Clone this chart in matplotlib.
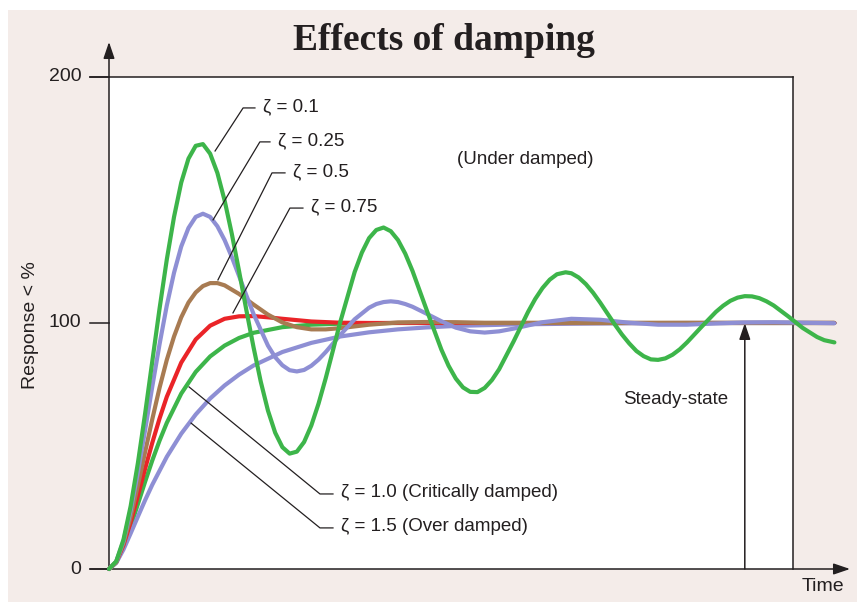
import matplotlib
matplotlib.use("Agg")
import matplotlib.pyplot as plt
from matplotlib.patches import Rectangle

# Step responses (time in units of 1/wn, response in %)
t_z010 = [0, 0.25, 0.5, 0.75, 1.0, 1.25, 1.5, 1.75, 2.0, 2.25, 2.5, 2.75, 3.0, 3.25, 3.5,
          3.75, 4.0, 4.25, 4.5, 4.75, 5.0, 5.25, 5.5, 5.75, 6.0, 6.25, 6.5, 6.75, 7.0, 7.25,
          7.5, 7.75, 8.0, 8.5, 8.75, 9.0, 9.25, 9.5, 9.75, 10.0, 10.25, 10.5, 11.0, 11.5,
          11.75, 12.0, 12.25, 12.5, 12.75, 13.0, 13.25, 13.5, 14.0, 14.5, 14.75, 15.0, 15.25,
          15.5, 15.8, 16.0, 16.25, 16.5, 16.75, 17.0, 17.25, 17.5, 17.75, 18.0, 18.25, 18.5,
          18.75, 19.0, 19.25, 19.5, 19.75, 20.0, 20.5, 21.0, 21.25, 21.5, 21.75, 22.0, 22.25,
          22.5, 22.75, 23.0, 23.5, 24.0, 24.5, 24.75, 25.1]
r_z010 = [0, 3.1, 11.9, 25.6, 43.1, 63.2, 84.6, 105.9, 125.8, 143.1, 157.1, 166.8, 172.0,
          172.7, 168.8, 161.0, 149.8, 136.2, 121.1, 105.4, 90.2, 76.2, 64.4, 55.4, 49.5, 46.9,
          47.7, 51.6, 58.3, 67.2, 77.6, 88.9, 100.3, 120.7, 128.6, 134.5, 137.8, 138.8, 137.3,
          133.7, 128.2, 121.2, 105.0, 89.2, 82.6, 77.4, 73.8, 72.0, 71.9, 73.6, 76.8, 81.2,
          92.5, 104.5, 109.8, 114.2, 117.6, 119.8, 120.6, 120.2, 118.5, 115.8, 112.3, 108.2,
          103.8, 99.4, 95.3, 91.7, 88.6, 86.5, 85.2, 85.0, 85.6, 87.1, 89.3, 92.1, 98.4, 104.5,
          107.0, 109.0, 110.3, 110.9, 110.8, 110.1, 108.8, 107.1, 102.7, 98.0, 94.3, 93.0, 92.1]

t_z025 = [0, 0.25, 0.5, 0.75, 1.0, 1.25, 1.5, 1.75, 2.0, 2.25, 2.5, 2.75, 3.0, 3.25, 3.5,
          3.75, 4.0, 4.25, 4.5, 4.75, 5.0, 5.5, 5.75, 6.0, 6.25, 6.5, 6.75, 7.0, 7.25, 7.5,
          8.0, 8.5, 9.0, 9.25, 9.5, 9.75, 10.0, 10.25, 10.5, 11.0, 11.5, 12.0, 12.5, 13.0,
          13.5, 14.0, 15.0, 16.0, 17.0, 18.0, 19.0, 20.0, 21.0, 22.0, 23.0, 24.0, 25.1]
r_z025 = [0, 3.0, 11.3, 23.8, 39.3, 56.5, 74.3, 91.4, 107.1, 120.4, 131.1, 138.6, 143.1,
          144.4, 143.1, 139.3, 133.7, 126.8, 119.1, 111.3, 103.7, 90.8, 86.1, 82.8, 80.8,
          80.3, 80.9, 82.6, 85.1, 88.2, 95.1, 101.5, 106.2, 107.7, 108.5, 108.8, 108.5, 107.7,
          106.6, 103.7, 100.7, 98.1, 96.6, 96.1, 96.6, 97.7, 100.3, 101.7, 101.3, 100.1, 99.3,
          99.3, 99.8, 100.2, 100.3, 100.1, 99.9]

t_z050 = [0, 0.25, 0.5, 0.75, 1.0, 1.25, 1.5, 1.75, 2.0, 2.25, 2.5, 2.75, 3.0, 3.25, 3.5,
          3.75, 4.0, 4.5, 5.0, 5.5, 6.0, 6.5, 7.0, 7.5, 8.0, 9.0, 10.0, 11.0, 12.0, 13.0, 25.1]
r_z050 = [0, 2.9, 10.4, 21.3, 34.0, 47.6, 61.0, 73.7, 85.0, 94.5, 102.3, 108.3, 112.4, 115.0,
          116.2, 116.2, 115.3, 111.8, 107.5, 103.4, 100.2, 98.3, 97.4, 97.4, 97.9, 99.3, 100.2,
          100.4, 100.3, 100.0, 100.0]

t_z075 = [0, 0.25, 0.5, 0.75, 1.0, 1.25, 1.5, 1.75, 2.0, 2.5, 3.0, 3.5, 4.0, 4.5, 5.0, 5.5,
          6.0, 7.0, 8.0, 9.0, 25.1]
r_z075 = [0, 2.8, 9.7, 19.1, 29.8, 40.8, 51.4, 61.2, 70.0, 83.9, 93.3, 98.9, 101.7, 102.7,
          102.8, 102.3, 101.7, 100.6, 100.1, 100.0, 100.0]

t_z100 = [0, 0.25, 0.5, 0.75, 1.0, 1.25, 1.5, 1.75, 2.0, 2.5, 3.0, 3.5, 4.0, 4.5, 5.0, 6.0,
          7.0, 8.0, 9.0, 10.0, 25.1]
r_z100 = [0, 2.6, 9.0, 17.3, 26.4, 35.5, 44.2, 52.2, 59.4, 71.3, 80.1, 86.4, 90.8, 93.9,
          96.0, 98.3, 99.3, 99.7, 99.9, 100.0, 100.0]

t_z150 = [0, 0.25, 0.5, 0.75, 1.0, 1.25, 1.5, 2.0, 2.5, 3.0, 3.5, 4.0, 4.5, 5.0, 6.0, 7.0,
          8.0, 9.0, 10.0, 11.0, 12.0, 14.0, 16.0, 18.0, 20.0, 25.1]
r_z150 = [0, 2.5, 7.9, 14.5, 21.3, 28.0, 34.3, 45.6, 55.0, 62.8, 69.3, 74.6, 79.0, 82.7,
          88.2, 91.9, 94.5, 96.2, 97.4, 98.2, 98.8, 99.4, 99.7, 99.9, 100.0, 100.0]

y_ticks = [0, 100, 200]
t_steady = 22.0
t_box = 23.67

GREEN = "#3db54a"
LAVENDER = "#8e8fd4"
BROWN = "#a87b52"
RED = "#ea2428"
INK = "#231f20"
BEIGE = "#f4ece9"
LABEL_FONT = ["Liberation Sans", "DejaVu Sans"]

fig = plt.figure(figsize=(8.57, 6.05), dpi=100, facecolor="white")
fig.patches.append(Rectangle((8 / 857, 3 / 605), 1 - 8 / 857, 592 / 605,
                             transform=fig.transFigure, facecolor=BEIGE,
                             edgecolor="none", zorder=-10))
ax = fig.add_axes([109 / 857, 36 / 605, 741 / 857, 527 / 605])
ax.set_xlim(0, 25.64)
ax.set_ylim(0, 214.2)
ax.axis("off")

# white plot box
ax.add_patch(Rectangle((0, 0), t_box, 200, facecolor="white", edgecolor="none", zorder=0))
ax.plot([-0.66, t_box], [200, 200], color=INK, lw=1.1, clip_on=False, zorder=1)
ax.plot([t_box, t_box], [0, 200], color=INK, lw=1.1, clip_on=False, zorder=1)
for v in y_ticks:
    ax.plot([-0.66, 0], [v, v], color=INK, lw=1.1, clip_on=False)
    ax.text(-0.95, v, str(v), ha="right", va="center", fontsize=14, color=INK,
            family=LABEL_FONT)

arrow = dict(arrowstyle="-|>,head_length=0.5,head_width=0.17", color=INK, lw=1.1,
             shrinkA=0, shrinkB=0, mutation_scale=20)
ax.annotate("", xy=(0, 214.2), xytext=(0, 0), arrowprops=arrow, annotation_clip=False)
ax.annotate("", xy=(25.64, 0), xytext=(-0.66, 0), arrowprops=arrow, annotation_clip=False)
ax.annotate("", xy=(t_steady, 100), xytext=(t_steady, 0), arrowprops=arrow,
            annotation_clip=False)

# curves
curves = [
    (t_z100, r_z100, GREEN),
    (t_z150, r_z150, LAVENDER),
    (t_z075, r_z075, RED),
    (t_z050, r_z050, BROWN),
    (t_z025, r_z025, LAVENDER),
    (t_z010, r_z010, GREEN),
]
for i, (t, r, c) in enumerate(curves):
    ax.plot(t, r, color=c, lw=3.0, solid_capstyle="round", solid_joinstyle="round",
            clip_on=False, zorder=3 + i)

# leader lines and labels
labels = ["ζ = 0.1", "ζ = 0.25", "ζ = 0.5", "ζ = 0.75",
          "ζ = 1.0 (Critically damped)", "ζ = 1.5 (Over damped)"]
leaders = [
    [(3.67, 169.9), (4.64, 187.4), (5.05, 187.4)],
    [(3.60, 141.9), (5.22, 173.6), (5.57, 173.6)],
    [(3.77, 117.5), (5.64, 161.0), (6.09, 161.0)],
    [(4.29, 104.1), (6.26, 146.7), (6.71, 146.7)],
    [(2.77, 74.0), (7.30, 30.5), (7.75, 30.5)],
    [(2.84, 59.3), (7.30, 16.7), (7.75, 16.7)],
]
for lab, pts in zip(labels, leaders):
    xs = [p[0] for p in pts]
    ys = [p[1] for p in pts]
    ax.plot(xs, ys, color=INK, lw=0.9, zorder=10)
    ax.text(xs[-1] + 0.28, ys[-1] + 0.5, lab, ha="left", va="center", fontsize=13.5,
            color=INK, family=LABEL_FONT, zorder=11)

ax.text(12.04, 166.3, "(Under damped)", ha="left", va="center", fontsize=13.5,
        color=INK, family=LABEL_FONT)
ax.text(17.79, 68.7, "Steady-state", ha="left", va="center", fontsize=13.5,
        color=INK, family=LABEL_FONT)
ax.text(24.7, -7.3, "Time", ha="center", va="center", fontsize=14, color=INK,
        family=LABEL_FONT)
ax.text(-2.73, 99.2, "Response < %", ha="center", va="center", rotation=90,
        fontsize=14, color=INK, family=LABEL_FONT)

fig.text(444 / 857, 1 - 41 / 605, "Effects of damping", ha="center", va="center",
         fontsize=27, fontweight="bold", color=INK, family=["Liberation Serif", "DejaVu Serif"])

fig.savefig("out.png", dpi=100, facecolor=fig.get_facecolor())
plt.close(fig)
